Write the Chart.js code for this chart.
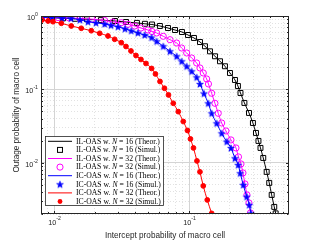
<!DOCTYPE html>
<html>
<head>
<meta charset="utf-8">
<script src="https://cdn.jsdelivr.net/npm/chart.js@4/dist/chart.umd.min.js"></script>
<style>
  html, body { margin: 0; padding: 0; background: #fff; }
  #wrap { width: 321px; height: 241px; }
</style>
</head>
<body>
<div id="wrap"><canvas id="chart"></canvas></div>
<script>
// IL-OAS, N = 16
const ilN16X = [0.00813, 0.00965, 0.01164, 0.01429, 0.01754, 0.02223, 0.02825, 0.0341, 0.0411, 0.0471, 0.0531, 0.0608, 0.0698, 0.0787, 0.0886, 0.0982, 0.1087, 0.1205, 0.1312, 0.1429, 0.1556, 0.1695, 0.1845, 0.2009, 0.2188, 0.2301, 0.2404, 0.257, 0.278, 0.2972, 0.3131, 0.3266, 0.3381, 0.3545, 0.3758, 0.3926, 0.4093, 0.4277, 0.4381];
const ilN16Y = [0.969, 0.954, 0.93, 0.916, 0.902, 0.879, 0.855, 0.828, 0.805, 0.783, 0.766, 0.731, 0.686, 0.644, 0.605, 0.551, 0.502, 0.442, 0.387, 0.33, 0.2825, 0.2415, 0.2065, 0.1673, 0.1343, 0.1112, 0.0893, 0.0653, 0.0477, 0.0348, 0.02547, 0.01982, 0.01592, 0.01162, 0.0075, 0.00531, 0.00364, 0.0025, 0.00204];
// IL-OAS, N = 32
const ilN32X = [0.00813, 0.00932, 0.01069, 0.0129, 0.01556, 0.01909, 0.0237, 0.0273, 0.03147, 0.03527, 0.03955, 0.04402, 0.04961, 0.0531, 0.05754, 0.0644, 0.0722, 0.0809, 0.0881, 0.096, 0.1045, 0.1138, 0.1204, 0.1274, 0.135, 0.1392, 0.147, 0.1555, 0.1645, 0.1744, 0.1877, 0.2044, 0.2226, 0.2323, 0.2424, 0.2508, 0.2595, 0.2685, 0.2778, 0.285];
const ilN32Y = [0.969, 0.96, 0.951, 0.939, 0.925, 0.905, 0.868, 0.828, 0.81, 0.77, 0.731, 0.686, 0.645, 0.615, 0.587, 0.529, 0.4755, 0.4286, 0.3664, 0.3133, 0.2678, 0.2289, 0.1957, 0.1673, 0.1386, 0.1185, 0.0885, 0.0646, 0.0472, 0.0348, 0.0271, 0.02045, 0.0159, 0.012, 0.00963, 0.00726, 0.00514, 0.00364, 0.00283, 0.00207];
// IC-OAS, N = 16
const icN16X = [0.00813, 0.00965, 0.01145, 0.01334, 0.01556, 0.01783, 0.02044, 0.0237, 0.02639, 0.02975, 0.0335, 0.03731, 0.0418, 0.0469, 0.0528, 0.05754, 0.0644, 0.0722, 0.0809, 0.0881, 0.096, 0.1045, 0.1138, 0.1204, 0.1289, 0.1388, 0.147, 0.1601, 0.1744, 0.19, 0.2044, 0.2188, 0.2314, 0.2394, 0.2521, 0.2671, 0.2793, 0.2874];
const icN16Y = [0.954, 0.948, 0.939, 0.93, 0.888, 0.836, 0.808, 0.778, 0.747, 0.715, 0.671, 0.63, 0.59, 0.551, 0.5095, 0.452, 0.3866, 0.3304, 0.2825, 0.2414, 0.2064, 0.1764, 0.1462, 0.1185, 0.0879, 0.0646, 0.0472, 0.0345, 0.0252, 0.0194, 0.0159, 0.0115, 0.00933, 0.00719, 0.00498, 0.00345, 0.00266, 0.00204];
// IC-OAS, N = 32
const icN32X = [0.00813, 0.00902, 0.00982, 0.01131, 0.01341, 0.0159, 0.01886, 0.02177, 0.02508, 0.02811, 0.03147, 0.03409, 0.03712, 0.04043, 0.04402, 0.04795, 0.0528, 0.05636, 0.0609, 0.0657, 0.0704, 0.0764, 0.0832, 0.0906, 0.0973, 0.1024, 0.1078, 0.1144, 0.1204, 0.1274, 0.1364, 0.147];
const icN32Y = [0.882, 0.855, 0.836, 0.795, 0.731, 0.68, 0.63, 0.581, 0.534, 0.4815, 0.4327, 0.384, 0.3336, 0.2896, 0.2555, 0.2254, 0.1927, 0.1621, 0.1281, 0.1035, 0.0839, 0.0646, 0.0497, 0.0365, 0.0275, 0.0211, 0.0159, 0.01058, 0.0075, 0.00483, 0.00311, 0.00204];

const schemes = ["IL-OAS", "IL-OAS", "IC-OAS", "IC-OAS"];
const antennas = [16, 32, 16, 32];
const kinds = ["Theor.", "Simul."];

const xTickValues = [0.01, 0.1];
const xTickExps = ["-2", "-1"];
const yTickValues = [1, 0.1, 0.01];
const yTickExps = ["0", "-1", "-2"];

const X_MIN = 0.008, X_MAX = 0.55, Y_MIN = 0.002, Y_MAX = 1;
const INK = "#262626";

function starImage(color, r) {
  const c = document.createElement("canvas");
  const size = Math.ceil(r * 2 + 2);
  c.width = c.height = size;
  const g = c.getContext("2d");
  g.fillStyle = color;
  g.strokeStyle = color;
  g.lineWidth = 0.6;
  g.beginPath();
  for (let k = 0; k < 10; k++) {
    const rad = k % 2 ? r * 0.42 : r;
    const ang = -Math.PI / 2 + (k * Math.PI) / 5;
    const px = size / 2 + rad * Math.cos(ang);
    const py = size / 2 + rad * Math.sin(ang) + 0.4;
    if (k) g.lineTo(px, py);
    else g.moveTo(px, py);
  }
  g.closePath();
  g.fill();
  g.stroke();
  return c;
}

const looks = [
  { color: "#000000", style: "rect", radius: 3.5, filled: false },
  { color: "#ff00ff", style: "circle", radius: 3.1, filled: false },
  { color: "#0000ff", style: starImage("#0000ff", 3.6), radius: 4, filled: true },
  { color: "#ff0000", style: "circle", radius: 2.4, filled: true },
];
const seriesX = [ilN16X, ilN32X, icN16X, icN32X];
const seriesY = [ilN16Y, ilN32Y, icN16Y, icN32Y];

const datasets = [];
seriesX.forEach((xs, i) => {
  const pts = xs.map((x, j) => ({ x, y: seriesY[i][j] }));
  const lk = looks[i];
  datasets.push({
    label: kinds[0],
    scheme: schemes[i],
    n: antennas[i],
    data: pts,
    showLine: true,
    borderColor: lk.color,
    borderWidth: 1,
    pointRadius: 0,
    cubicInterpolationMode: "monotone",
  });
  datasets.push({
    label: kinds[1],
    scheme: schemes[i],
    n: antennas[i],
    data: pts,
    showLine: false,
    pointStyle: lk.style,
    pointRadius: lk.radius,
    pointBorderWidth: 1,
    borderColor: lk.color,
    backgroundColor: lk.filled ? lk.color : "rgba(0,0,0,0)",
  });
});
datasets.forEach((d, i) => (d.order = datasets.length - 1 - i));

function isMajor(v) {
  const l = Math.log10(v);
  return Math.abs(l - Math.round(l)) < 1e-6;
}
function logTicks(min, max) {
  const out = [];
  for (let e = Math.floor(Math.log10(min)); e <= Math.ceil(Math.log10(max)); e++) {
    for (let m = 1; m < 10; m++) {
      const v = +(m * Math.pow(10, e)).toPrecision(3);
      if (v >= min * 0.999 && v <= max * 1.001) out.push(v);
    }
  }
  return out;
}

const gridStyle = {
  color: (c) => (c.tick && isMajor(c.tick.value) ? "#d4d4d4" : "#e2e2e2"),
  lineWidth: 1,
  drawTicks: false,
};
const borderStyle = {
  display: false,
  dash: (c) => (c.tick && !isMajor(c.tick.value) ? [1, 2] : []),
};

function drawPow(ctx, exp, x, y, align) {
  ctx.font = '7.3px "Liberation Sans"';
  const w10 = ctx.measureText("10").width;
  ctx.font = '5.2px "Liberation Sans"';
  const we = ctx.measureText(exp).width;
  const start = align === "right" ? x - w10 - we : x - (w10 + we) / 2;
  ctx.textAlign = "left";
  ctx.textBaseline = "middle";
  ctx.font = '7.3px "Liberation Sans"';
  ctx.fillText("10", start, y + 2);
  ctx.font = '5.2px "Liberation Sans"';
  ctx.fillText(exp, start + w10, y - 1.5);
}

const decor = {
  id: "decor",
  afterDraw(chart) {
    const { ctx, chartArea: a, scales } = chart;
    const { x, y } = scales;
    ctx.save();
    ctx.strokeStyle = INK;
    ctx.lineWidth = 1;
    const L = Math.round(a.left) + 0.5, R = Math.round(a.right) - 0.5;
    const T = Math.round(a.top) + 0.5, B = Math.round(a.bottom) - 0.5;
    ctx.strokeRect(L, T, R - L, B - T);
    ctx.beginPath();
    x.ticks.forEach((t) => {
      const px = Math.round(x.getPixelForValue(t.value)) + 0.5;
      const len = isMajor(t.value) ? 2.5 : 1.5;
      ctx.moveTo(px, B); ctx.lineTo(px, B - len);
      ctx.moveTo(px, T); ctx.lineTo(px, T + len);
    });
    y.ticks.forEach((t) => {
      const py = Math.round(y.getPixelForValue(t.value)) + 0.5;
      const len = isMajor(t.value) ? 2.5 : 1.5;
      ctx.moveTo(L, py); ctx.lineTo(L + len, py);
      ctx.moveTo(R, py); ctx.lineTo(R - len, py);
    });
    ctx.stroke();

    // tick labels
    ctx.fillStyle = INK;
    xTickValues.forEach((v, i) => {
      drawPow(ctx, xTickExps[i], x.getPixelForValue(v) + 0.5, 220.5, "center");
    });
    yTickValues.forEach((v, i) => {
      drawPow(ctx, yTickExps[i], a.left - 3, y.getPixelForValue(v), "right");
    });

    // legend
    const bx = 45.5, by = 136.5, bw = 118, bh = 69, row = 8.6;
    ctx.fillStyle = "#fff";
    ctx.fillRect(bx, by, bw, bh);
    ctx.strokeStyle = INK;
    ctx.lineWidth = 0.8;
    ctx.strokeRect(bx, by, bw, bh);
    chart.data.datasets.forEach((d, i) => {
      const cy = by + 4.8 + i * row;
      const lk = looks[Math.floor(i / 2)];
      ctx.save();
      if (d.showLine) {
        ctx.strokeStyle = lk.color;
        ctx.lineWidth = 1;
        ctx.beginPath();
        ctx.moveTo(48, cy);
        ctx.lineTo(72, cy);
        ctx.stroke();
      } else {
        ctx.strokeStyle = lk.color;
        ctx.fillStyle = lk.color;
        ctx.lineWidth = 1;
        const mx = 60;
        if (lk.style === "rect") {
          const s = lk.radius * Math.SQRT1_2;
          ctx.strokeRect(mx - s, cy - s, 2 * s, 2 * s);
        } else if (lk.style === "circle") {
          ctx.beginPath();
          ctx.arc(mx, cy, lk.radius, 0, Math.PI * 2);
          if (lk.filled) ctx.fill();
          else ctx.stroke();
        } else {
          ctx.drawImage(lk.style, mx - lk.style.width / 2, cy - lk.style.height / 2);
        }
      }
      ctx.restore();
      ctx.fillStyle = "#000";
      ctx.textAlign = "left";
      ctx.textBaseline = "middle";
      let tx = 76;
      const pre = d.scheme + " w. ";
      const post = " = " + d.n + " (" + d.label + ")";
      ctx.font = '7.7px "Liberation Serif"';
      ctx.fillText(pre, tx, cy + 0.3);
      tx += ctx.measureText(pre).width;
      ctx.font = 'italic 7.7px "Liberation Serif"';
      ctx.fillText("N", tx, cy + 0.3);
      tx += ctx.measureText("N").width;
      ctx.font = '7.7px "Liberation Serif"';
      ctx.fillText(post, tx, cy + 0.3);
    });
    ctx.restore();
  },
};

new Chart(document.getElementById("chart"), {
  type: "scatter",
  data: { datasets },
  options: {
    responsive: true,
    maintainAspectRatio: false,
    devicePixelRatio: 1,
    animation: false,
    events: [],
    layout: { padding: { left: 0, right: 32, top: 16, bottom: 0 } },
    plugins: { legend: { display: false }, tooltip: { enabled: false } },
    scales: {
      x: {
        type: "logarithmic",
        min: X_MIN,
        max: X_MAX,
        afterBuildTicks: (s) => { s.ticks = logTicks(X_MIN, X_MAX).map((v) => ({ value: v })); },
        afterFit: (s) => { s.height = 27; },
        ticks: { display: false },
        grid: gridStyle,
        border: borderStyle,
        title: {
          display: true,
          text: "Intercept probability of macro cell",
          color: INK,
          font: { family: "Liberation Sans", size: 8.2 },
          padding: { top: 0, bottom: 0 },
        },
      },
      y: {
        type: "logarithmic",
        min: Y_MIN,
        max: Y_MAX,
        afterBuildTicks: (s) => { s.ticks = logTicks(Y_MIN, Y_MAX).map((v) => ({ value: v })); },
        afterFit: (s) => { s.width = 41; },
        ticks: { display: false },
        grid: gridStyle,
        border: borderStyle,
        title: {
          display: true,
          text: "Outage probability of macro cell",
          color: INK,
          font: { family: "Liberation Sans", size: 8.2 },
          padding: { top: 12, bottom: 0 },
        },
      },
    },
  },
  plugins: [decor],
});
</script>
</body>
</html>
